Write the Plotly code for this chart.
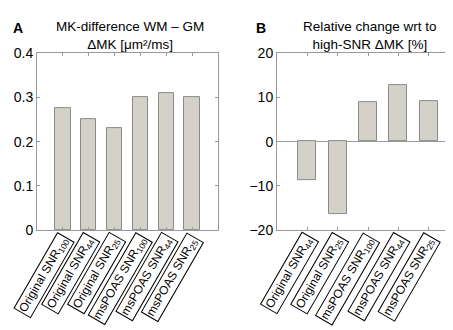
import plotly.graph_objects as go

# Data
cats_a = ["Original SNR<sub>100</sub>", "Original SNR<sub>44</sub>", "Original SNR<sub>25</sub>",
          "msPOAS SNR<sub>100</sub>", "msPOAS SNR<sub>44</sub>", "msPOAS SNR<sub>25</sub>"]
vals_a = [0.275, 0.251, 0.231, 0.300, 0.310, 0.300]
cats_b = ["Original SNR<sub>44</sub>", "Original SNR<sub>25</sub>",
          "msPOAS SNR<sub>100</sub>", "msPOAS SNR<sub>44</sub>", "msPOAS SNR<sub>25</sub>"]
vals_b = [-8.6, -16.3, 8.9, 12.8, 9.2]
ticks_a = [0, 0.1, 0.2, 0.3, 0.4]
ticklabels_a = ["0", "0.1", "0.2", "0.3", "0.4"]
ticks_b = [-20, -10, 0, 10, 20]
ticklabels_b = ["\u221220", "\u221210", "0", "10", "20"]

FONT = "Liberation Sans, Arial, sans-serif"
BAR = "#d4d1c9"
EDGE = "#8a8a8a"
AX = "#9a9a9a"

pos_a = list(range(1, len(cats_a) + 1))
pos_b = list(range(1, len(cats_b) + 1))

fig = go.Figure()
fig.add_trace(go.Bar(x=pos_a, y=vals_a, width=0.6, marker=dict(color=BAR, line=dict(color=EDGE, width=1)),
                     xaxis="x", yaxis="y", showlegend=False))
fig.add_trace(go.Bar(x=pos_b, y=vals_b, width=0.6, marker=dict(color=BAR, line=dict(color=EDGE, width=1)),
                     xaxis="x2", yaxis="y2", showlegend=False))

W, H = 453, 330
ydom = [(H - 225) / H, (H - 39) / H]
common_x = dict(showgrid=False, zeroline=False, showline=True, linecolor=AX, linewidth=1,
                mirror="ticks", ticks="inside", ticklen=3, tickcolor=AX, showticklabels=False)
common_y = dict(showgrid=False, showline=True, linecolor=AX, linewidth=1, mirror="ticks",
                ticks="inside", ticklen=3, tickcolor=AX, tickfont=dict(size=14, color="black", family=FONT))

fig.update_layout(
    width=W, height=H, margin=dict(l=0, r=0, t=0, b=0),
    paper_bgcolor="white", plot_bgcolor="white", bargap=0,
    font=dict(family=FONT, color="black"),
    xaxis=dict(domain=[29 / W, 210 / W], range=[0, 7], tickvals=pos_a, anchor="y", **common_x),
    yaxis=dict(domain=ydom, range=[0, 0.4], tickvals=ticks_a, ticktext=ticklabels_a, zeroline=False,
               anchor="x", **common_y),
    xaxis2=dict(domain=[269 / W, 451 / W], range=[0, 6], tickvals=pos_b, anchor="y2", **common_x),
    yaxis2=dict(domain=ydom, range=[-20, 20], tickvals=ticks_b, ticktext=ticklabels_b, zeroline=True,
                zerolinecolor=AX, zerolinewidth=1, anchor="x2", **common_y),
)

ann = []
# titles
ann.append(dict(text="MK-difference WM \u2013 GM<br>\u0394MK [\u03bcm\u00b2/ms]", xref="paper", yref="paper",
                x=122 / W, y=1 - 1 / H, xanchor="center", yanchor="top", showarrow=False,
                font=dict(size=13.5, family=FONT)))
ann.append(dict(text="Relative change wrt to<br>high-SNR \u0394MK [%]", xref="paper", yref="paper",
                x=362 / W, y=1 - 1 / H, xanchor="center", yanchor="top", showarrow=False,
                font=dict(size=13.5, family=FONT)))
ann.append(dict(text="<b>A</b>", xref="paper", yref="paper", x=3 / W, y=1 - 2 / H, xanchor="left",
                yanchor="top", showarrow=False, font=dict(size=14, family=FONT)))
ann.append(dict(text="<b>B</b>", xref="paper", yref="paper", x=246 / W, y=1 - 2 / H, xanchor="left",
                yanchor="top", showarrow=False, font=dict(size=14, family=FONT)))

lab_y = (H - 227) / H
for xr, cats, pos in (("x", cats_a, pos_a), ("x2", cats_b, pos_b)):
    for c, p in zip(cats, pos):
        ann.append(dict(text=c, xref=xr, yref="paper", x=p, y=lab_y, xanchor="right", yanchor="top",
                        xshift=12, textangle=-60, showarrow=False, bordercolor="black", borderwidth=1,
                        borderpad=1, bgcolor="white", font=dict(size=12, family=FONT)))
fig.update_layout(annotations=ann)

fig.write_html("out.html")
